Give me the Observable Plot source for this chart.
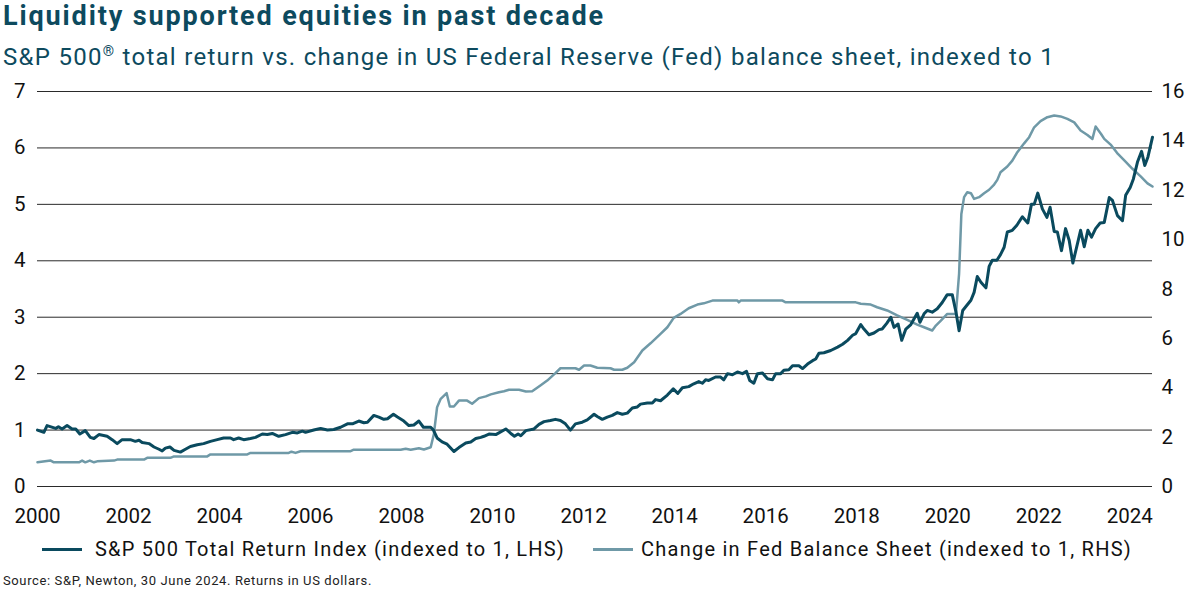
<!DOCTYPE html>
<html><head><meta charset="utf-8">
<script src="https://cdn.jsdelivr.net/npm/d3@7"></script>
<script src="https://cdn.jsdelivr.net/npm/@observablehq/plot@0.6"></script>
<style>
body{margin:0;background:#fff;font-family:Roboto,"Noto Sans",sans-serif;width:1200px;height:600px;position:relative;overflow:hidden}
#title{position:absolute;left:3px;top:0px;font-size:27px;font-weight:700;color:#0d4a5e;white-space:nowrap}
#subtitle{position:absolute;left:3px;top:43px;font-size:24px;color:#0d4a5e;white-space:nowrap}
#chart{position:absolute;left:0;top:80px}
.leg{position:absolute;top:537px;font-size:20px;color:#111;white-space:nowrap;display:flex;align-items:center}
.sw{display:inline-block;width:40px;height:3px;margin-right:13px}
#source{position:absolute;left:3px;top:573px;font-size:13px;color:#222;white-space:nowrap}
</style></head>
<body>
<div id="title"><span class="fit">Liquidity supported equities in past decade</span></div>
<div id="subtitle"><span class="fit">S&amp;P 500<sup style="font-size:0.6em;line-height:0">®</sup> total return vs. change in US Federal Reserve (Fed) balance sheet, indexed to 1</span></div>
<div id="chart"></div>
<div class="leg" style="left:42px"><span class="sw" style="background:#0a4a5e"></span><span id="leg1">S&amp;P 500 Total Return Index (indexed to 1, LHS)</span></div>
<div class="leg" style="left:593px"><span class="sw" style="background:#6f99a7;margin-right:8px"></span><span id="leg2">Change in Fed Balance Sheet (indexed to 1, RHS)</span></div>
<div id="source"><span id="src">Source: S&amp;P, Newton, 30 June 2024. Returns in US dollars.</span></div>
<script>
const xTicks = [2000,2002,2004,2006,2008,2010,2012,2014,2016,2018,2020,2022,2024];
const leftTicks = [0,1,2,3,4,5,6,7];
const rightTicks = [0,2,4,6,8,10,12,14,16];

// S&P 500 total return index (indexed to 1), [year, value]
const spSeries = [
[2000.00,1.00],[2000.14,0.96],[2000.21,1.08],[2000.40,1.03],[2000.46,1.06],[2000.54,1.02],[2000.65,1.08],[2000.76,1.02],[2000.84,1.02],[2000.93,0.93],
[2001.05,0.99],[2001.16,0.87],[2001.24,0.85],[2001.35,0.92],[2001.53,0.89],[2001.64,0.83],[2001.75,0.76],[2001.86,0.83],[2002.04,0.83],[2002.15,0.80],
[2002.23,0.82],[2002.30,0.78],[2002.45,0.76],[2002.56,0.70],[2002.67,0.66],[2002.74,0.63],[2002.81,0.68],[2002.91,0.70],[2003.00,0.64],[2003.14,0.61],
[2003.25,0.66],[2003.36,0.71],[2003.51,0.74],[2003.65,0.76],[2003.80,0.80],[2003.95,0.83],[2004.09,0.86],[2004.24,0.86],[2004.31,0.83],[2004.42,0.86],
[2004.53,0.83],[2004.68,0.85],[2004.79,0.87],[2004.94,0.93],[2005.05,0.92],[2005.16,0.94],[2005.30,0.89],[2005.45,0.92],[2005.60,0.96],[2005.71,0.95],
[2005.82,0.98],[2005.89,0.96],[2006.07,1.00],[2006.22,1.03],[2006.37,1.00],[2006.51,1.01],[2006.66,1.05],[2006.81,1.11],[2006.92,1.11],[2007.06,1.16],
[2007.17,1.13],[2007.25,1.14],[2007.39,1.26],[2007.50,1.23],[2007.61,1.19],[2007.69,1.20],[2007.82,1.28],[2007.91,1.23],[2008.05,1.16],[2008.16,1.08],
[2008.27,1.09],[2008.38,1.16],[2008.48,1.05],[2008.64,1.05],[2008.70,1.00],[2008.78,0.86],[2008.89,0.79],[2009.00,0.75],[2009.15,0.62],[2009.26,0.69],
[2009.41,0.77],[2009.52,0.79],[2009.63,0.85],[2009.74,0.87],[2009.81,0.89],[2009.92,0.93],[2010.07,0.92],[2010.29,1.02],[2010.40,0.94],[2010.48,0.89],
[2010.56,0.93],[2010.62,0.90],[2010.73,0.99],[2010.91,1.02],[2011.02,1.10],[2011.13,1.15],[2011.27,1.17],[2011.38,1.19],[2011.49,1.17],[2011.60,1.11],
[2011.71,1.00],[2011.82,1.11],[2011.97,1.14],[2012.08,1.18],[2012.23,1.28],[2012.30,1.24],[2012.41,1.19],[2012.52,1.23],[2012.63,1.26],[2012.74,1.31],
[2012.85,1.28],[2012.96,1.30],[2013.07,1.39],[2013.18,1.41],[2013.25,1.46],[2013.40,1.48],[2013.51,1.48],[2013.58,1.54],[2013.69,1.52],[2013.84,1.62],
[2013.97,1.73],[2014.07,1.65],[2014.17,1.75],[2014.31,1.77],[2014.42,1.82],[2014.53,1.86],[2014.61,1.83],[2014.68,1.89],[2014.75,1.88],[2014.90,1.94],
[2015.01,1.94],[2015.08,1.89],[2015.16,2.00],[2015.27,1.98],[2015.38,2.03],[2015.49,2.00],[2015.58,2.04],[2015.65,1.88],[2015.74,1.83],[2015.82,2.00],
[2015.93,2.01],[2016.04,1.91],[2016.15,1.89],[2016.22,2.00],[2016.33,2.00],[2016.40,2.06],[2016.51,2.07],[2016.59,2.14],[2016.73,2.14],[2016.81,2.09],
[2016.92,2.17],[2017.03,2.23],[2017.10,2.26],[2017.17,2.36],[2017.28,2.37],[2017.43,2.41],[2017.58,2.47],[2017.69,2.52],[2017.80,2.59],[2017.91,2.68],
[2017.98,2.71],[2018.09,2.87],[2018.16,2.79],[2018.27,2.69],[2018.38,2.72],[2018.49,2.78],[2018.56,2.79],[2018.66,2.89],[2018.75,3.00],[2018.82,2.82],
[2018.91,2.88],[2018.99,2.59],[2019.08,2.79],[2019.19,2.87],[2019.33,3.07],[2019.39,2.91],[2019.48,3.06],[2019.55,3.12],[2019.66,3.09],[2019.77,3.15],
[2019.88,3.26],[2019.99,3.40],[2020.10,3.40],[2020.18,3.10],[2020.25,2.76],[2020.33,3.12],[2020.40,3.19],[2020.51,3.30],[2020.58,3.44],[2020.65,3.72],
[2020.73,3.62],[2020.84,3.52],[2020.91,3.90],[2020.98,4.01],[2021.08,4.01],[2021.16,4.11],[2021.24,4.24],[2021.31,4.51],[2021.42,4.54],[2021.52,4.63],
[2021.64,4.78],[2021.76,4.67],[2021.84,5.00],[2021.90,5.00],[2021.98,5.20],[2022.08,4.92],[2022.18,4.77],[2022.25,4.95],[2022.34,4.52],[2022.41,4.51],
[2022.50,4.18],[2022.59,4.57],[2022.67,4.36],[2022.75,3.96],[2022.85,4.30],[2022.92,4.54],[2023.00,4.25],[2023.08,4.54],[2023.16,4.42],[2023.25,4.57],
[2023.35,4.67],[2023.44,4.68],[2023.55,5.12],[2023.62,5.07],[2023.73,4.80],[2023.84,4.71],[2023.91,5.16],[2024.01,5.30],[2024.08,5.45],[2024.17,5.75],
[2024.26,5.94],[2024.33,5.69],[2024.40,5.84],[2024.50,6.19]
];

// Change in Fed balance sheet (indexed to 1), [year, value]
const fedSeries = [
[2000.00,0.98],[2000.29,1.05],[2000.36,0.98],[2000.91,0.98],[2000.98,1.05],[2001.05,0.98],[2001.15,1.05],[2001.24,0.98],[2001.31,1.02],[2001.68,1.05],
[2001.75,1.09],[2002.34,1.09],[2002.41,1.16],[2002.92,1.16],[2003.00,1.22],[2003.73,1.22],[2003.80,1.30],[2004.61,1.30],[2004.68,1.36],[2005.52,1.36],
[2005.58,1.41],[2005.67,1.36],[2005.78,1.43],[2006.88,1.43],[2006.95,1.49],[2007.98,1.49],[2008.09,1.53],[2008.20,1.49],[2008.38,1.55],[2008.49,1.50],
[2008.64,1.59],[2008.71,2.13],[2008.78,3.21],[2008.86,3.55],[2008.99,3.78],[2009.06,3.24],[2009.15,3.24],[2009.26,3.48],[2009.44,3.48],[2009.55,3.35],
[2009.70,3.58],[2009.85,3.65],[2009.96,3.73],[2010.14,3.82],[2010.25,3.86],[2010.36,3.92],[2010.58,3.92],[2010.73,3.85],[2010.87,3.86],[2011.05,4.09],
[2011.20,4.29],[2011.38,4.59],[2011.49,4.79],[2011.82,4.79],[2011.90,4.73],[2012.01,4.90],[2012.15,4.90],[2012.30,4.81],[2012.59,4.79],[2012.67,4.73],
[2012.85,4.73],[2012.96,4.81],[2013.11,5.03],[2013.29,5.51],[2013.47,5.80],[2013.69,6.18],[2013.84,6.45],[2013.98,6.83],[2014.13,6.99],[2014.31,7.22],
[2014.50,7.37],[2014.64,7.42],[2014.83,7.53],[2015.38,7.53],[2015.41,7.46],[2015.45,7.53],[2016.37,7.53],[2016.44,7.46],[2017.98,7.46],[2018.09,7.40],
[2018.31,7.37],[2018.45,7.26],[2018.67,7.13],[2018.89,6.93],[2019.11,6.75],[2019.33,6.56],[2019.48,6.45],[2019.66,6.32],[2019.74,6.52],[2019.85,6.72],
[2019.99,6.99],[2020.18,6.99],[2020.25,8.61],[2020.30,11.04],[2020.36,11.72],[2020.43,11.92],[2020.51,11.88],[2020.58,11.65],[2020.69,11.72],[2020.80,11.88],
[2020.91,12.02],[2021.02,12.23],[2021.09,12.42],[2021.16,12.73],[2021.31,12.96],[2021.42,13.20],[2021.53,13.54],[2021.68,13.90],[2021.79,14.15],[2021.90,14.55],
[2022.04,14.80],[2022.19,14.96],[2022.34,15.03],[2022.48,14.99],[2022.63,14.89],[2022.78,14.75],[2022.92,14.42],[2023.07,14.24],[2023.18,14.08],[2023.25,14.58],
[2023.37,14.28],[2023.44,14.08],[2023.58,13.85],[2023.74,13.47],[2023.87,13.23],[2024.06,12.87],[2024.24,12.56],[2024.39,12.28],[2024.50,12.15]
];

const spColor = "#0a4a5e";
const fedColor = "#6f99a7";
const rightToLeft = d3.scaleLinear([0, 16], [0, 7]);

const chart = Plot.plot({
  width: 1200,
  height: 455,
  marginLeft: 37,
  marginRight: 48,
  marginTop: 11,
  marginBottom: 49,
  style: {fontFamily: "Roboto, 'Noto Sans', sans-serif", fontSize: "20.5px", color: "#111", background: "transparent"},
  x: {domain: [2000, 2024.5]},
  y: {domain: [0, 7]},
  marks: [
    Plot.gridY(leftTicks, {stroke: "#2a2a2a", strokeOpacity: 1, strokeWidth: 1}),
    Plot.axisY(leftTicks, {anchor: "left", tickSize: 0, tickPadding: 12, label: null, tickFormat: d => String(d)}),
    Plot.axisY(rightTicks, {anchor: "right", y: rightToLeft, tickSize: 0, tickPadding: 9, label: null, tickFormat: d => String(d)}),
    Plot.axisX(xTicks, {anchor: "bottom", tickSize: 0, tickPadding: 22, label: null, tickFormat: d => String(d)}),
    Plot.line(fedSeries, {x: d => d[0], y: d => rightToLeft(d[1]), stroke: fedColor, strokeWidth: 2.5}),
    Plot.line(spSeries, {x: d => d[0], y: d => d[1], stroke: spColor, strokeWidth: 3})
  ]
});
document.getElementById("chart").appendChild(chart);

// stretch text runs to the widths seen in the reference
function fit(el, target) {
  const w = el.getBoundingClientRect().width;
  const n = el.textContent.length;
  el.style.letterSpacing = ((target - w) / n) + "px";
}
const fits = document.querySelectorAll(".fit");
fit(fits[0], 602);
fit(fits[1], 1052);
fit(document.getElementById("leg1"), 470);
fit(document.getElementById("leg2"), 491);
fit(document.getElementById("src"), 369);
</script>
</body></html>
